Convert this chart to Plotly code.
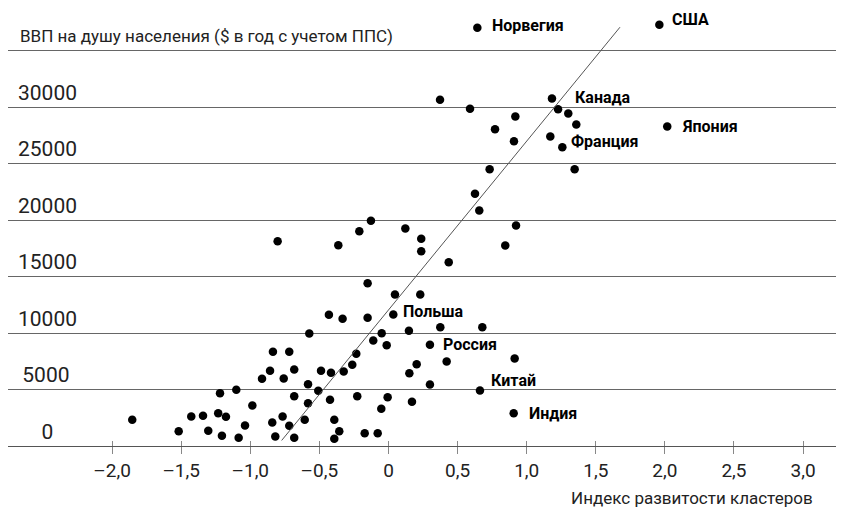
import plotly.graph_objects as go

# индекс развитости кластеров / ВВП на душу населения
cluster_index = [
    -1.854, -1.518, -1.427, -1.342, -1.304, -1.232, -1.176, -1.219, -1.205, -1.101,
    -1.084, -1.038, -0.985, -0.915, -0.857, -0.836, -0.841, -0.819, -0.573, -0.718,
    -0.758, -0.682, -0.582, -0.488, -0.416, -0.324, -0.262, -0.233, -0.110, -0.049,
    -0.013, -0.508, -0.682, -0.582, -0.423, -0.226, -0.006, -0.052, 0.170, 0.151,
    0.204, -0.766, -0.718, -0.606, -0.682, -0.392, -0.356, -0.392, -0.172, -0.078,
    0.047, 0.230, 0.035, 0.148, 0.375, 0.679, 0.300, 0.421, 0.913, 0.300,
    0.662, 0.906, -0.802, -0.363, -0.211, -0.127, 0.122, 0.237, 0.237, 0.436,
    -0.151, -0.431, -0.332, -0.151, 0.373, 0.590, 0.918, 0.771, 0.908, 1.183,
    1.227, 1.301, 1.359, 1.171, 1.258, 1.347, 0.732, 0.626, 0.657, 0.923,
    0.845, 0.643, 1.960, 2.017,
]
gdp_ppp = [
    2320, 1310, 2610, 2670, 1345, 2900, 2585, 4670, 900, 4975,
    725, 1815, 3585, 5945, 6655, 8335, 2080, 840, 9955, 8335,
    5975, 6770, 5470, 6655, 6480, 6595, 7185, 8160, 9335, 9985,
    8920, 4885, 4405, 3790, 4090, 4405, 4320, 3290, 3910, 6445,
    7240, 2610, 1790, 2320, 725, 2320, 1310, 635, 1135, 1135,
    13410, 13410, 11640, 10200, 10515, 10515, 8955, 7480, 7745, 5445,
    4910, 2905, 18125, 17770, 19010, 19930, 19250, 18335, 17240, 16265,
    14410, 11610, 11255, 11345, 30640, 29840, 29160, 28040, 26975, 30755,
    29805, 29425, 28455, 27390, 26445, 24500, 24500, 22320, 20840, 19515,
    17745, 37010, 37275, 28275,
]

countries = ["Норвегия", "США", "Канада", "Франция", "Япония", "Польша", "Россия", "Китай", "Индия"]
country_x = [0.643, 1.960, 1.183, 1.258, 2.017, 0.035, 0.300, 0.662, 0.906]
country_y = [37010, 37275, 30755, 26445, 28275, 11640, 8955, 4910, 2905]
label_shift = [(13, 2), (11, 5), (21, 1), (7, 6), (13, 0), (8, 3), (11, 0), (9, 10), (13, 0)]

trend_x = [-0.773, 1.675]
trend_y = [490, 37064]

x_ticks = [-2.0, -1.5, -1.0, -0.5, 0, 0.5, 1.0, 1.5, 2.0, 2.5, 3.0]
x_ticktext = ["–2,0", "–1,5", "–1,0", "–0,5", "0", "0,5", "1,0", "1,5", "2,0", "2,5", "3,0"]
y_ticks = [0, 5000, 10000, 15000, 20000, 25000, 30000, 35000]
y_ticktext = ["\u2007\u20070", "\u20095000", "10000", "15000", "20000", "25000", "30000", ""]
y_title = "ВВП на душу населения ($ в год с учетом ППС)"
x_title = "Индекс развитости кластеров"

FONT = "Roboto, Liberation Sans Narrow, sans-serif"


def plot_clusters():
    fig = go.Figure()

    fig.add_trace(go.Scatter(
        x=trend_x, y=trend_y,
        mode='lines',
        line=dict(color='#555', width=1),
        xaxis='x2',
        hoverinfo='skip',
    ))

    fig.add_trace(go.Scatter(
        x=cluster_index, y=gdp_ppp,
        mode='markers',
        marker=dict(size=8.5, color='black'),
        cliponaxis=False,
        hoverinfo='skip',
    ))

    annotations = []
    for name, cx, cy, (dx, dy) in zip(countries, country_x, country_y, label_shift):
        annotations.append(dict(
            x=cx, y=cy, text=f"<b>{name}</b>",
            showarrow=False, xanchor='left', yanchor='middle',
            xshift=dx, yshift=dy,
            font=dict(family=FONT, size=16, color='black'),
        ))
    annotations.append(dict(
        x=0, y=35000, xref='paper', yref='y',
        text=y_title,
        showarrow=False, xanchor='left', yanchor='bottom',
        xshift=10, yshift=3,
        font=dict(family=FONT, size=17, color='#222'),
    ))
    annotations.append(dict(
        x=1, y=0, xref='paper', yref='paper',
        text=x_title,
        showarrow=False, xanchor='right', yanchor='top',
        xshift=-29, yshift=-40,
        font=dict(family=FONT, size=17, color='#222'),
    ))

    # the page adds an 8px body margin, so the figure is 8px smaller each way
    xrange = [-2.753, 3.296]
    fig.update_layout(
        width=836, height=500,
        margin=dict(l=0, r=0, t=0, b=62),
        paper_bgcolor='white', plot_bgcolor='white',
        showlegend=False,
        annotations=annotations,
        font=dict(family=FONT, color='#222'),
        xaxis=dict(
            range=xrange, automargin=False,
            tickvals=x_ticks, ticktext=x_ticktext,
            ticks='outside', ticklen=7, tickcolor='#888',
            tickfont=dict(size=19, color='#222'),
            showline=True, linecolor='#555', linewidth=1,
            showgrid=False, zeroline=False,
        ),
        xaxis2=dict(
            range=xrange, overlaying='x', side='bottom', automargin=False,
            tickvals=x_ticks, showticklabels=False,
            ticks='inside', ticklen=5, tickcolor='#888',
            showline=False, showgrid=False, zeroline=False,
        ),
        yaxis=dict(
            range=[0, 38763], automargin=False,
            tickvals=y_ticks, ticktext=y_ticktext,
            ticklabelposition='inside top',
            tickfont=dict(size=21, color='#222'),
            ticks='', ticklabelstandoff=7,
            showgrid=True, gridcolor='#666', gridwidth=1,
            showline=False, zeroline=False,
        ),
    )
    return fig


fig = plot_clusters()
fig.write_html("out.html", config=dict(displayModeBar=False))
